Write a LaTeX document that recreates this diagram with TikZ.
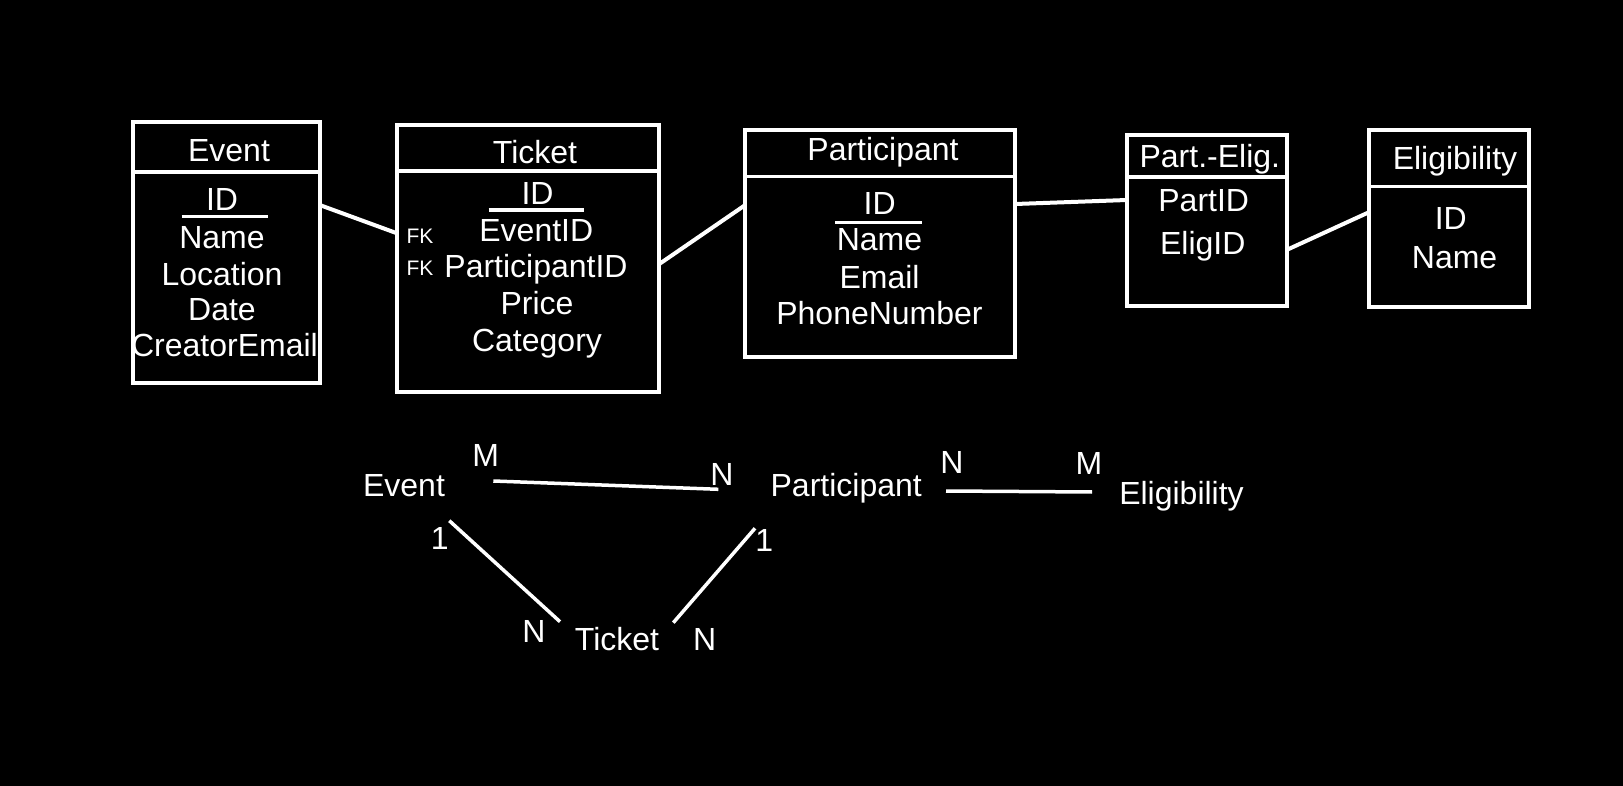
\documentclass[tikz,border=0pt]{standalone}
\usepackage{fontspec}
\setmainfont{Liberation Sans}
\usetikzlibrary{calc}
\begin{document}
\begin{tikzpicture}[x=1pt,y=-1pt,
  txt/.style={text=white,font=\fontsize{32}{32}\selectfont,inner sep=0pt,anchor=base},
  fk/.style={text=white,font=\fontsize{21}{21}\selectfont,inner sep=0pt,anchor=base},
  tbl/.style={draw=white,line width=4pt,inner sep=0pt,outer sep=0pt,anchor=north west},
  divider/.style={draw=white,line width=3.5pt},
  uline/.style={draw=white,line width=3.5pt},
  link/.style={draw=white,line width=4pt},
  rel/.style={draw=white,line width=3.5pt}]
\fill[black] (0,0) rectangle (1623,786);
\useasboundingbox (0,0) rectangle (1623,786);

% ---------- tables ----------
\node[tbl,minimum width=187.2pt,minimum height=261pt] (ev) at (132.5,122.3) {};
\node[tbl,minimum width=262.3pt,minimum height=266.4pt] (tk) at (397,125.3) {};
\node[tbl,minimum width=270pt,minimum height=227.3pt] (pa) at (745.3,129.7) {};
\node[tbl,minimum width=159.5pt,minimum height=171pt] (pe) at (1127,135.3) {};
\node[tbl,minimum width=160.5pt,minimum height=176.7pt] (el) at (1368.8,130.3) {};

\draw[divider] ($(ev.north west)+(0,49.7)$) -- ($(ev.north east)+(0,49.7)$);
\draw[divider] ($(tk.north west)+(0,45.7)$) -- ($(tk.north east)+(0,45.7)$);
\draw[divider] ($(pa.north west)+(0,47)$) -- ($(pa.north east)+(0,47)$);
\draw[divider] ($(pe.north west)+(0,41.7)$) -- ($(pe.north east)+(0,41.7)$);
\draw[divider] ($(el.north west)+(0,56.4)$) -- ($(el.north east)+(0,56.4)$);

% Event
\node[txt] (evT) at (229,161.7) {Event};
\node[txt] (evA1) at (222,210.7) {ID};
\node[txt] (evA2) at (222,248.3) {Name};
\node[txt] (evA3) at (222,286) {Location};
\node[txt] (evA4) at (222,320.7) {Date};
\node[txt] (evA5) at (224.5,356.7) {CreatorEmail};
\coordinate (evU1) at (181.7,216.7);
\coordinate (evU2) at (267.7,216.7);
\draw[uline] (evU1) -- (evU2);

% Ticket
\node[txt] (tkT) at (535,163.3) {Ticket};
\node[txt] (tkA1) at (537.5,205) {ID};
\node[txt] (tkA2) at (536.3,241.5) {EventID};
\node[txt] (tkA3) at (536,278) {ParticipantID};
\node[txt] (tkA4) at (537,315) {Price};
\node[txt] (tkA5) at (537,352) {Category};
\node[fk] (fk1) at (420,243.3) {FK};
\node[fk] (fk2) at (420,275.7) {FK};
\coordinate (tkU1) at (488.7,209.8);
\coordinate (tkU2) at (584,209.8);
\draw[uline] (tkU1) -- (tkU2);

% Participant
\node[txt] (paT) at (883,161) {Participant};
\node[txt] (paA1) at (879.7,214.3) {ID};
\node[txt] (paA2) at (879.5,251) {Name};
\node[txt] (paA3) at (879.5,289) {Email};
\node[txt] (paA4) at (879.5,325) {PhoneNumber};
\coordinate (paU1) at (835,222.3);
\coordinate (paU2) at (922.3,222.3);
\draw[uline] (paU1) -- (paU2);

% Part.-Elig.
\node[txt] (peT) at (1209.8,167.7) {Part.-Elig.};
\node[txt] (peA1) at (1203.7,211.7) {PartID};
\node[txt] (peA2) at (1202.8,255) {EligID};

% Eligibility
\node[txt] (elT) at (1455,169.3) {Eligibility};
\node[txt] (elA1) at (1450.8,230) {ID};
\node[txt] (elA2) at (1454.6,268.3) {Name};

% ---------- table links ----------
\draw[link] ($(ev.north east)+(0,82.7)$) -- ($(tk.north west)+(0,108)$);
\draw[link] ($(tk.north east)+(0,138.7)$) -- ($(pa.north west)+(0,75.3)$);
\draw[link] ($(pa.north east)+(0,74.3)$) -- ($(pe.north west)+(0,64.7)$);
\draw[link] ($(pe.north east)+(0,114.7)$) -- ($(el.north west)+(0,82)$);

% ---------- relationship diagram ----------
\node[txt] (rEv) at (404,496.7) {Event};
\node[txt] (rPa) at (846.2,496) {Participant};
\node[txt] (rEl) at (1181.5,504.3) {Eligibility};
\node[txt] (rTk) at (617,650) {Ticket};

\node[txt] (cM1) at (485.7,466) {M};
\node[txt] (cN1) at (722,485) {N};
\node[txt] (cN2) at (952,473.3) {N};
\node[txt] (cM2) at (1089,474.3) {M};
\node[txt] (c11) at (439.7,549.3) {1};
\node[txt] (c12) at (764.3,551.7) {1};
\node[txt] (cN3) at (534,642.3) {N};
\node[txt] (cN4) at (704.7,650.7) {N};

\coordinate (ep1) at (493.3,481);
\coordinate (ep2) at (718.3,489.3);
\coordinate (pe1) at (946,491);
\coordinate (pe2) at (1092,492);
\coordinate (et1) at (449.3,520.7);
\coordinate (et2) at (560,621.7);
\coordinate (pt1) at (755,528.3);
\coordinate (pt2) at (673.3,622.7);
\draw[rel] (ep1) -- (ep2);
\draw[rel] (pe1) -- (pe2);
\draw[rel] (et1) -- (et2);
\draw[rel] (pt1) -- (pt2);
\end{tikzpicture}
\end{document}
